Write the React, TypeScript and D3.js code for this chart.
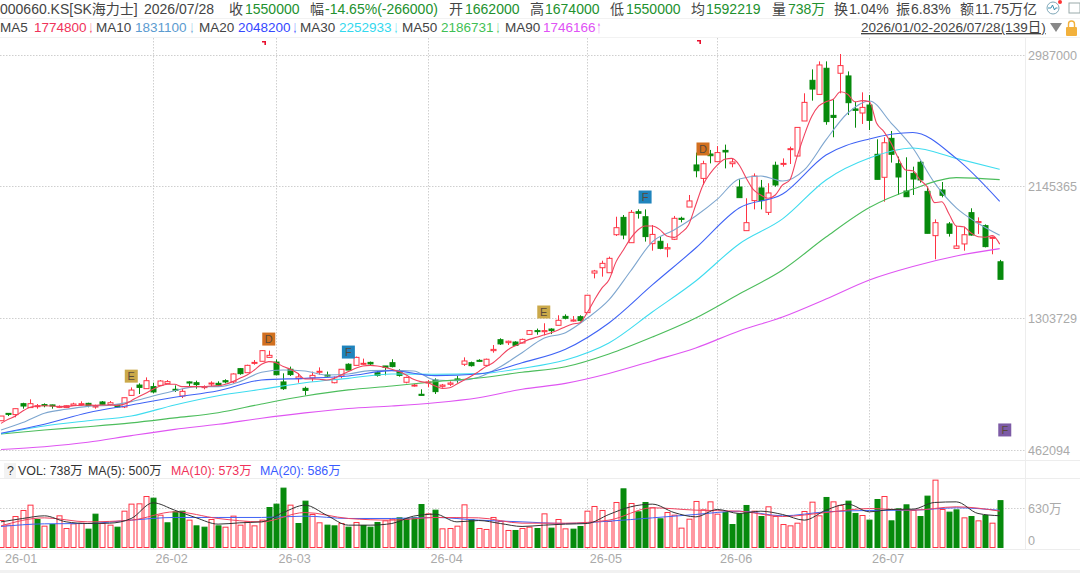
import React, { useEffect, useRef } from "react";
import * as d3 from "d3";

// prices in thousands of won
const opens = [646,693,685,755,730,736,749,747,734,730,744,749,757,734,766,749,747,734,808,874,851,864,872,883,847,804,894,889,859,883,885,902,894,979,953,1015,1026,1051,1021,894,975,915,853,919,958,938,889,932,1007,1000,
  1007,1019,953,996,1017,962,892,868,815,887,906,866,879,913,1007,1017,1032,1000,1094,1164,1145,1149,1143,1198,1222,1215,1232,1256,1313,1283,1311,1337,1590,1624,1592,1835,1946,1784,1982,1950,1778,1793,1744,1806,1940,2012,2281,2195,2351,2302,2374,2289,2140,1861,2053,2134,1978,2279,2285,2381,2338,2562,2822,2732,2899,2598,2867,2850,2639,2613,2664,2349,2202,2451,2289,2114,2227,2298,2112,1829,2121,1904,1748,1776,1976,1912,1893,1812,1662];
const closes = [676,689,723,740,755,742,744,740,738,742,753,755,744,740,751,761,734,793,842,859,902,830,900,896,842,834,887,877,864,887,874,894,945,947,1000,1019,1094,1064,940,851,941,926,840,936,962,932,911,975,970,1051,
  1013,1009,936,987,992,936,923,874,808,894,832,874,887,906,1028,998,1026,1039,1102,1137,1154,1128,1166,1222,1218,1222,1222,1288,1301,1290,1286,1448,1603,1652,1684,1880,1833,1978,1972,1823,1837,1748,1752,1940,1933,2051,2244,2289,2340,2360,2364,2300,2072,1912,2210,2053,2102,2153,2291,2385,2521,2681,2766,2920,2558,2585,2916,2679,2630,2649,2566,2189,2423,2349,2204,2078,2191,2185,1844,1912,2087,1844,1763,1835,1833,1919,1759,1818,1550];
const highs = [676,693,723,761,783,753,757,749,744,744,761,770,761,749,772,772,749,793,859,885,923,889,906,906,872,851,898,902,872,898,898,911,949,983,1004,1034,1098,1094,1038,949,992,949,864,960,987,960,928,975,1013,1056,
  1043,1024,970,996,1039,975,928,881,847,906,917,881,898,932,1051,1024,1039,1043,1130,1173,1158,1154,1171,1226,1235,1269,1237,1320,1326,1315,1320,1448,1610,1669,1695,1950,1961,1993,1997,1997,1897,1823,1780,1955,1950,2089,2360,2308,2377,2402,2411,2323,2189,2068,2227,2185,2164,2302,2323,2398,2521,2739,2892,2943,2943,2700,2990,2879,2685,2745,2728,2445,2458,2498,2334,2330,2270,2308,2142,1933,2172,1916,1891,1887,2004,1946,1901,1823,1674];
const lows = [646,676,668,723,730,723,732,723,727,727,740,740,732,723,749,744,732,727,808,817,851,821,868,883,830,791,864,851,847,868,864,885,885,940,953,1004,1026,1047,936,843,932,889,808,896,940,928,885,917,970,1000,
  1002,1000,928,936,987,928,885,864,808,860,817,857,868,889,996,992,1024,996,1081,1130,1130,1124,1141,1198,1196,1192,1200,1256,1294,1279,1281,1337,1556,1567,1592,1827,1806,1784,1938,1791,1733,1742,1691,1801,1914,2012,2202,2153,2291,2302,2259,2266,2072,1861,1997,1997,1961,2142,2270,2287,2338,2562,2692,2732,2538,2458,2739,2600,2519,2543,2504,2189,2046,2296,2089,2078,2089,2168,1844,1678,2074,1823,1744,1733,1829,1840,1754,1710,1550];

// volume in 万 shares
const volumes = [425,352,488,583,667,441,336,362,499,299,373,383,289,525,378,352,320,572,683,688,803,777,509,389,562,572,431,341,320,441,341,320,494,352,404,341,431,630,683,935,667,378,730,520,389,352,341,378,320,394,
  347,320,394,420,446,467,452,467,677,530,588,294,299,336,672,441,299,284,473,410,268,268,299,320,299,530,305,441,294,289,331,572,646,583,410,709,924,693,562,709,625,452,551,509,305,446,725,593,719,525,
  551,362,530,662,572,488,641,488,362,341,383,567,714,499,788,719,662,730,536,504,431,756,803,420,609,672,583,488,809,1061,599,557,593,467,488,420,504,383,738];
const volumeDownDays = [5,7,12,13,16,21,23,24,25,27,28,30,37,38,39,41,42,45,46,48,50,51,52,55,56,57,58,60,65,71,74,76,79,80,86,88,89,91,100,101,102,103,105,114,117,118,120,121,123,124,125,127,128,131,132,134,136,138];

// MA5 is read at every session, the others at every 3rd or 6th
const everyDay = d3.range(0, 139);
const fastDays = d3.range(0, 139, 3);
const slowDays = d3.range(0, 139, 6);
const ma5 = [629,655,676,708,732,740,742,740,736,736,742,744,747,744,747,747,744,751,774,800,821,847,868,879,879,864,864,864,864,868,870,879,896,917,938,970,1007,1024,1017,992,975,949,
  913,913,911,906,917,938,960,981,996,1000,996,987,975,960,938,911,896,889,868,853,857,881,906,932,960,992,1017,1056,1098,1124,1145,1166,1179,1194,1209,1226,1247,1264,1273,
  1337,1418,1492,1546,1663,1737,1812,1865,1891,1891,1869,1827,1818,1848,1897,2025,2153,2227,2281,2317,2323,2281,2195,2121,2089,2068,2089,
  2153,2185,2334,2472,2589,2658,2685,2701,2749,2733,2685,2692,2685,2547,2494,2419,2323,2249,2244,2185,2140,2040,2046,1968,1891,1886,1848,1822,1819,1829,1775];
const ma10 = [587,634,694,719,738,745,768,804,838,864,864,896,956,970,964,938,945,966,968,964,906,902,924,991,1081,1173,1209,1301,1418,1603,1789,1865,1955,2063,2191,2210,2178,2249,2441,2613,2690,2549,2389,2166,2006,1908,1831];
const ma20 = [566,623,697,747,796,838,906,917,932,966,934,945,1017,1103,1271,1514,1750,2006,2095,2345,2447,2488,2323,2048];
const ma30 = [563,612,646,676,747,806,847,889,917,945,943,947,981,1034,1143,1341,1539,1776,1936,2185,2325,2389,2323,2253];
const ma50 = [561,587,608,632,664,697,753,804,843,868,896,919,956,991,1073,1181,1303,1456,1610,1820,2009,2127,2200,2187];
const ma90 = [462,480,508,551,591,623,662,696,724,740,761,793,847,885,948,1028,1111,1220,1309,1424,1546,1632,1699,1746];

const volMa5 = [404,457,499,404,378,383,457,704,588,467,368,389,404,551,667,509,352,352,378,494,525,404,425,378,331,352,368,378,520,641,683,551,483,599,536,572,520,431,588,683,562,599,604,709,719,536,500];
const volMa10 = [341,467,404,431,562,457,404,551,457,431,473,467,383,383,431,625,588,572,488,551,614,588,641,573];
const volMa20 = [331,373,378,431,473,473,473,494,457,457,473,431,404,378,415,467,520,572,499,562,583,588,625,586];

const priceTicks = [2987000, 2145365, 1303729, 462094];
const monthDays = [0, 21, 38, 59, 81, 99, 120];
const monthLabels = ["26-01", "26-02", "26-03", "26-04", "26-05", "26-06", "26-07"];

const signalDays = [18, 37, 48, 75, 89, 97, 138.7];
const signalPrices = [931, 1168, 1085, 1341, 2076, 2383, 587];
const signalLabels = ["E", "D", "F", "E", "F", "D", "F"];
const signalColors = ["#cba94a", "#d2701f", "#1f84bd", "#cba94a", "#1f84bd", "#d2701f", "#7d5ba6"];

const headerLine = [
  ["000660.KS[SK海力士]", 0, "#444"], ["2026/07/28", 144, "#444"],
  ["收", 229, "#444"], ["1550000", 245, "#22912e"], ["幅", 310, "#444"], ["-14.65%(-266000)", 325, "#22912e"],
  ["开", 449, "#444"], ["1662000", 465, "#22912e"], ["高", 530, "#444"], ["1674000", 545, "#22912e"],
  ["低", 610, "#444"], ["1550000", 626, "#22912e"], ["均", 691, "#444"], ["1592219", 706, "#22912e"],
  ["量", 772, "#444"], ["738万", 788, "#22912e"], ["换", 834, "#444"], ["1.04%", 849, "#444"],
  ["振", 896, "#444"], ["6.83%", 911, "#444"], ["额", 960, "#444"], ["11.75万亿", 975, "#444"],
] as [string, number, string][];
const maLine = [
  ["MA5", 0, "#444"], ["1774800", 34, "#f0325a"], ["MA10", 96, "#444"], ["1831100", 135, "#5b9bd0"],
  ["MA20", 199, "#444"], ["2048200", 238, "#3548ff"], ["MA30", 300, "#444"], ["2252933", 339, "#33d8ee"],
  ["MA50", 402, "#444"], ["2186731", 441, "#3fbf55"], ["MA90", 505, "#444"], ["1746166", 543, "#e052f5"],
] as [string, number, string][];
const maArrows = [
  ["↓", 89, "#f0325a"], ["↓", 190, "#5b9bd0"], ["↓", 293, "#3548ff"], ["↓", 394, "#33d8ee"], ["↓", 496, "#3fbf55"], ["↑", 597, "#e052f5"],
] as [string, number, string][];
const volLegend = [
  ["VOL: 738万", 18, "#333"], ["MA(5): 500万", 88, "#333"], ["MA(10): 573万", 171, "#f0325a"], ["MA(20): 586万", 260, "#3a5cff"],
] as [string, number, string][];

const UP = "#ff3344";
const DOWN = "#078a0c";
const FONT = "'Liberation Sans', 'Noto Sans CJK SC', sans-serif";

export default function App() {
  const ref = useRef<SVGSVGElement | null>(null);

  useEffect(() => {
    if (!ref.current) return;
    const svg = d3.select(ref.current);
    svg.selectAll("*").remove();

    const x = d3.scaleLinear().domain([0, 138]).range([1, 999.7]);
    const y = d3.scaleLinear().domain([462094, 2987000]).range([449.5, 54.5]);
    const yVol = d3.scaleLinear().domain([0, 630]).range([547.5, 507.5]);
    const crisp = (v: number) => Math.round(v) + 0.5;

    // header
    const header = svg.append("g").style("font-family", FONT).style("font-size", "14px");
    header.selectAll("text.h").data(headerLine).enter().append("text").attr("class", "h")
      .attr("x", (d) => d[1]).attr("y", 14).attr("fill", (d) => d[2]).text((d) => d[0]);
    header.selectAll("text.m").data(maLine).enter().append("text").attr("class", "m")
      .attr("x", (d) => d[1]).attr("y", 32).style("font-size", "13.5px").attr("fill", (d) => d[2]).text((d) => d[0]);
    // arrows are narrower in the original, so they get squeezed sideways
    header.selectAll("text.a").data(maArrows).enter().append("text").attr("class", "a")
      .attr("transform", (d) => `translate(${d[1]},33) scale(0.55,1.25)`).style("font-size", "14px")
      .style("font-weight", 700).attr("fill", (d) => d[2]).text((d) => d[0]);
    header.append("text").attr("x", 861).attr("y", 32).style("font-size", "13.5px").attr("fill", "#444")
      .attr("text-decoration", "underline").text("2026/01/02-2026/07/28(139日)");
    svg.append("path").attr("d", "M1050 23 H1062 L1056 32 Z").attr("fill", "#888");
    svg.append("rect").attr("x", 1066).attr("y", 27).attr("width", 11).attr("height", 9).attr("rx", 1).attr("fill", "#f2b13c");
    svg.append("path").attr("d", "M1068.5 27 v-3 a3 3 0 0 1 6 0 v3").attr("fill", "none").attr("stroke", "#f2b13c").attr("stroke-width", 1.4);
    svg.append("circle").attr("cx", 1053).attr("cy", 8).attr("r", 6).attr("fill", "#fff").attr("stroke", "#7fa8b8");
    svg.append("path").attr("d", "M1048 8 h3 l1.5 -3 l2 5 l1 -2 h2").attr("fill", "none").attr("stroke", "#3d8fb0");
    svg.append("circle").attr("cx", 1060).attr("cy", 2).attr("r", 2).attr("fill", "#f33");
    svg.append("rect").attr("x", 1069).attr("y", 3).attr("width", 11).attr("height", 10).attr("fill", "none").attr("stroke", "#9aa");
    svg.append("line").attr("x1", 0).attr("x2", 1080).attr("y1", 18.5).attr("y2", 18.5).attr("stroke", "#f2f2f2");
    svg.append("line").attr("x1", 0).attr("x2", 1080).attr("y1", 37.5).attr("y2", 37.5).attr("stroke", "#f2f2f2");

    // panel frame
    const frame = svg.append("g").attr("stroke", "#ededed").attr("fill", "none");
    frame.append("line").attr("x1", 1025.5).attr("x2", 1025.5).attr("y1", 38).attr("y2", 549);
    frame.append("line").attr("x1", 0).attr("x2", 1080).attr("y1", 460.5).attr("y2", 460.5);
    frame.append("line").attr("x1", 0).attr("x2", 1080).attr("y1", 478.5).attr("y2", 478.5);
    frame.append("line").attr("x1", 0).attr("x2", 1080).attr("y1", 549.5).attr("y2", 549.5);
    svg.append("rect").attr("x", 0).attr("y", 570).attr("width", 1080).attr("height", 3).attr("fill", "#f1f1f1");

    // dotted grid
    const grid = svg.append("g").attr("stroke", "#cfcfcf").attr("stroke-dasharray", "1.5 1.5").attr("fill", "none");
    grid.selectAll("line.h").data(priceTicks).enter().append("line").attr("class", "h")
      .attr("x1", 0).attr("x2", 1025).attr("y1", (d) => crisp(y(d))).attr("y2", (d) => crisp(y(d)));
    grid.append("line").attr("x1", 0).attr("x2", 1025).attr("y1", crisp(yVol(630))).attr("y2", crisp(yVol(630)));
    grid.selectAll("line.v").data(monthDays.slice(1)).enter().append("line").attr("class", "v")
      .attr("x1", (d) => crisp(x(d))).attr("x2", (d) => crisp(x(d))).attr("y1", 38).attr("y2", 460);
    grid.selectAll("line.w").data(monthDays.slice(1)).enter().append("line").attr("class", "w")
      .attr("x1", (d) => crisp(x(d))).attr("x2", (d) => crisp(x(d))).attr("y1", 479).attr("y2", 549);

    // candles
    const days = d3.range(closes.length);
    const candles = svg.append("g");
    candles.selectAll("line").data(days).enter().append("line")
      .attr("x1", (i) => crisp(x(i))).attr("x2", (i) => crisp(x(i)))
      .attr("y1", (i) => y(highs[i] * 1000)).attr("y2", (i) => y(lows[i] * 1000))
      .attr("stroke", (i) => (closes[i] >= opens[i] ? UP : DOWN));
    candles.selectAll("rect").data(days).enter().append("rect")
      .attr("x", (i) => crisp(x(i)) - 2.5).attr("width", 5)
      .attr("y", (i) => y(Math.max(opens[i], closes[i]) * 1000))
      .attr("height", (i) => Math.max(1, Math.abs(y(opens[i] * 1000) - y(closes[i] * 1000))))
      .attr("fill", (i) => (closes[i] >= opens[i] ? "#fff" : DOWN))
      .attr("stroke", (i) => (closes[i] >= opens[i] ? UP : DOWN));

    // moving averages
    const maLines: [number[], number[], string][] = [
      [fastDays, ma10, "#7ea6cf"], [slowDays, ma90, "#df55f2"], [slowDays, ma50, "#4cbd5c"],
      [slowDays, ma30, "#3fdcef"], [slowDays, ma20, "#3f63f5"], [everyDay, ma5, "#f0435f"],
    ];
    maLines.forEach(([ds, vs, color]) => {
      const line = d3.line<number>().x((d) => x(d)).y((_, k) => y(vs[k] * 1000)).curve(d3.curveMonotoneX);
      svg.append("path").attr("d", line(ds)).attr("fill", "none").attr("stroke", color).attr("stroke-width", 1.1);
    });

    // signal badges
    const badges = svg.append("g").style("font-family", FONT).style("font-size", "11px");
    signalDays.forEach((d, k) => {
      const cx = x(d);
      const cy = y(signalPrices[k] * 1000);
      badges.append("rect").attr("x", cx - 6.5).attr("y", cy - 6.5).attr("width", 13).attr("height", 13)
        .attr("fill", signalColors[k]);
      badges.append("text").attr("x", cx).attr("y", cy + 4).attr("text-anchor", "middle")
        .attr("fill", "#5a4a3a").text(signalLabels[k]);
    });

    // little red flags at the top
    [[262, 41], [697, 40]].forEach(([fx, fy]) => {
      svg.append("path").attr("d", `M${fx} ${fy} h4 v4 h-1.6 v-2.4 h-2.4 Z`).attr("fill", "#e8102e");
    });

    // price labels
    const axisText = svg.append("g").style("font-family", FONT).style("font-size", "12.6px").attr("fill", "#aaa");
    axisText.selectAll("text.p").data(priceTicks).enter().append("text").attr("class", "p")
      .attr("x", 1028).attr("y", (d) => y(d) + 5).text((d) => String(d));
    axisText.append("text").attr("x", 1028).attr("y", yVol(630) + 5).text("630万");
    axisText.append("text").attr("x", 1028).attr("y", yVol(0) - 3).text("0");
    axisText.selectAll("text.t").data(monthDays).enter().append("text").attr("class", "t")
      .attr("x", (d) => x(d) + (d === 0 ? 4 : 2.5)).attr("y", 563)
      .text((_, k) => monthLabels[k]);

    // volume legend
    svg.append("rect").attr("x", 4).attr("y", 463).attr("width", 12).attr("height", 15).attr("fill", "#f3f3f3");
    const legend = svg.append("g").style("font-family", FONT).style("font-size", "12.4px");
    legend.append("text").attr("x", 7).attr("y", 475).attr("fill", "#333").text("?");
    legend.selectAll("text.l").data(volLegend).enter().append("text").attr("class", "l")
      .attr("x", (d) => d[1]).attr("y", 475).attr("fill", (d) => d[2]).text((d) => d[0]);

    // volume bars
    const downSet = new Set(volumeDownDays);
    svg.append("g").selectAll("rect").data(days).enter().append("rect")
      .attr("x", (i) => crisp(x(i)) - 2.5).attr("width", 5)
      .attr("y", (i) => yVol(volumes[i])).attr("height", (i) => yVol(0) - yVol(volumes[i]))
      .attr("fill", (i) => (downSet.has(i) ? DOWN : "#fff"))
      .attr("stroke", (i) => (downSet.has(i) ? DOWN : UP));

    const volLines: [number[], number[], string][] = [
      [slowDays, volMa20, "#3f63f5"], [slowDays, volMa10, "#f0435f"], [fastDays, volMa5, "#333"],
    ];
    volLines.forEach(([ds, vs, color]) => {
      const line = d3.line<number>().x((d) => x(d)).y((_, k) => yVol(vs[k])).curve(d3.curveMonotoneX);
      svg.append("path").attr("d", line(ds)).attr("fill", "none").attr("stroke", color).attr("stroke-width", 1);
    });
  }, []);

  return (
    <svg ref={ref} width={1080} height={573}
      style={{ position: "absolute", left: 0, top: 0, background: "#fff" }} />
  );
}
